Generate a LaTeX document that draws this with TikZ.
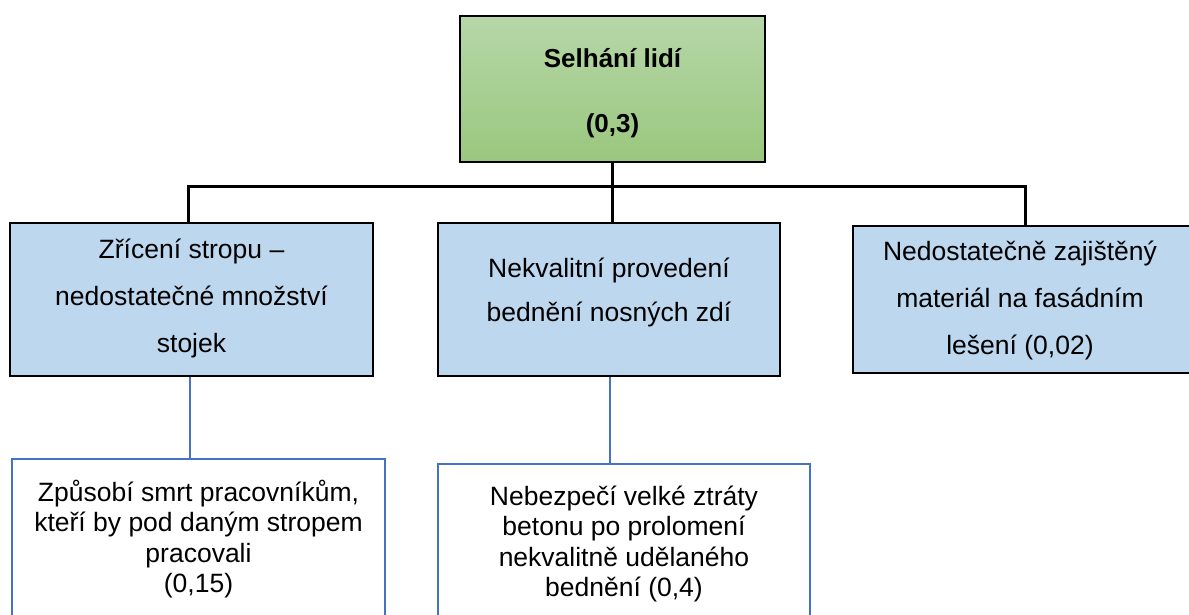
\documentclass[tikz,border=0pt]{standalone}
\usepackage{fontspec}
\setmainfont{Liberation Sans}
\definecolor{boxblue}{HTML}{BDD7EE}
\definecolor{lineblue}{HTML}{4472C4}
\definecolor{greentop}{HTML}{B6D7A8}
\definecolor{greenbot}{HTML}{9AC77E}
\begin{document}
\begin{tikzpicture}[x=1pt,y=-1pt,
  rootbox/.style={draw=black, line width=2pt, top color=greentop, bottom color=greenbot,
    minimum width=305pt, minimum height=146pt, inner sep=0pt},
  causebox/.style={draw=black, line width=2pt, fill=boxblue, inner sep=0pt},
  effectbox/.style={draw=lineblue, line width=2pt, fill=white, inner sep=0pt},
  roottext/.style={font=\fontsize{26}{65}\selectfont\bfseries, align=center, inner sep=0pt},
  causetext/.style={font=\fontsize{26.5}{47}\selectfont, align=center, inner sep=0pt},
  effecttext/.style={font=\fontsize{26.5}{30.5}\selectfont, align=center, inner sep=0pt},
  tree/.style={draw=black, line width=3pt},
  link/.style={draw=lineblue, line width=2pt}]
\useasboundingbox (0,0) rectangle (1189,615);
\clip (0,0) rectangle (1189,615);

% top event
\node[rootbox] (root) at (612.5,89) {};
\node[roottext] (rootT) at (612.5,93) {Selhání lidí\\(0,3)};

% causes
\node[causebox, minimum width=363pt, minimum height=153pt] (c1) at (191.5,299.5) {};
\node[causetext] (c1T) at (191.5,298) {Zřícení stropu –\\nedostatečné množství\\stojek};
\node[causebox, minimum width=342pt, minimum height=153pt] (c2) at (609,299.5) {};
\node[causetext, font=\fontsize{26.5}{44}\selectfont] (c2T) at (609,292) {Nekvalitní provedení\\bednění nosných zdí};
\node[causebox, minimum width=345pt, minimum height=147pt] (c3) at (1025.5,299.5) {};
\node[causetext] (c3T) at (1020,300) {Nedostatečně zajištěný\\materiál na fasádním\\lešení (0,02)};

% consequences
\node[effectbox, minimum width=373pt, minimum height=180pt] (e1) at (198.5,549) {};
\node[effecttext] (e1T) at (198.5,539) {Způsobí smrt pracovníkům,\\kteří by pod daným stropem\\pracovali\\(0,15)};
\node[effectbox, minimum width=372pt, minimum height=170pt] (e2) at (624,549) {};
\node[effecttext] (e2T) at (624,544) {Nebezpečí velké ztráty\\betonu po prolomení\\nekvalitně udělaného\\bednění (0,4)};

% tree connectors
\coordinate (hub) at (root.south |- 0,186);
\draw[tree] (root.south) -- (hub);
\draw[tree] (c1.north -| 188,0) |- (hub);
\draw[tree] (c3.north) |- (hub);
\draw[tree] (hub) -- (c2.north -| hub);

% cause to consequence links
\draw[link] (c1.south -| 190,0) -- (e1.north -| 190,0);
\draw[link] (c2.south -| 610,0) -- (e2.north -| 610,0);
\end{tikzpicture}
\end{document}
